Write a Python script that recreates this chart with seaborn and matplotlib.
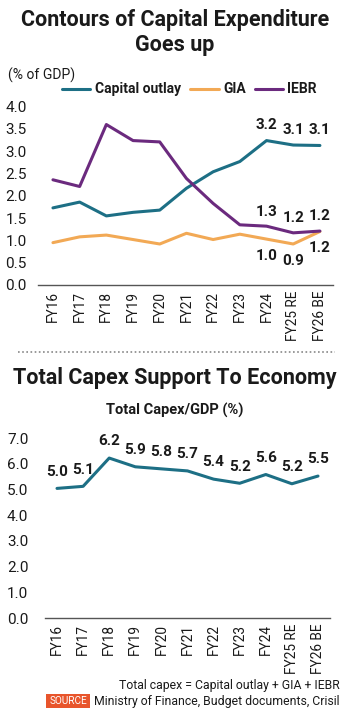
import matplotlib
matplotlib.use("Agg")
import matplotlib.pyplot as plt
import seaborn as sns
import pandas as pd
from matplotlib.lines import Line2D
from matplotlib.patches import Rectangle

years = ["FY16", "FY17", "FY18", "FY19", "FY20", "FY21", "FY22", "FY23", "FY24", "FY25 RE", "FY26 BE"]
capital_outlay = [1.73, 1.86, 1.55, 1.63, 1.68, 2.17, 2.54, 2.77, 3.24, 3.14, 3.13]
gia = [0.95, 1.08, 1.12, 1.02, 0.92, 1.16, 1.02, 1.14, 1.03, 0.92, 1.20]
iebr = [2.36, 2.21, 3.60, 3.24, 3.21, 2.39, 1.83, 1.35, 1.32, 1.17, 1.21]
total = [5.04, 5.12, 6.22, 5.88, 5.80, 5.72, 5.40, 5.24, 5.58, 5.22, 5.52]
series_names = ["Capital outlay", "GIA", "IEBR"]
top_yticks = [0.0, 0.5, 1.0, 1.5, 2.0, 2.5, 3.0, 3.5, 4.0]
bot_yticks = [0.0, 1.0, 2.0, 3.0, 4.0, 5.0, 6.0, 7.0]

TEAL = "#1d6f85"
ORANGE = "#f2a955"
PURPLE = "#6b2a7e"
DARK = "#1a1a1a"

sns.set_theme(style="white")
FONT = ["Roboto", "DejaVu Sans"]
plt.rcParams["font.family"] = FONT

W, H = 350, 714
fig = plt.figure(figsize=(W / 100, H / 100), dpi=100)

def fx(px):
    return px / W

def fy(py):
    return 1 - py / H

# ---------- Top chart ----------
ax1 = fig.add_axes([fx(38), fy(285), fx(333 - 38), fy(106.7) - fy(285)])
df = pd.DataFrame({
    "year": years * 3,
    "value": capital_outlay + gia + iebr,
    "series": [series_names[0]] * 11 + [series_names[1]] * 11 + [series_names[2]] * 11,
})
sns.lineplot(data=df, x="year", y="value", hue="series",
             palette={series_names[0]: TEAL, series_names[1]: ORANGE, series_names[2]: PURPLE},
             linewidth=2.2, ax=ax1, legend=False, sort=False)

def style_axis(ax, yticks, xpad_l, xpad_r, ymax, ypad):
    ax.set_xlim(-xpad_l, len(years) - 1 + xpad_r)
    ax.set_ylim(0, ymax)
    ax.set_yticks(yticks)
    ax.set_yticklabels([f"{t:.1f}" for t in yticks], color=DARK, fontsize=11)
    ax.set_xticks(range(len(years)))
    ax.set_xticklabels(years, rotation=90, color=DARK, fontsize=9.8)
    ax.tick_params(axis="both", length=0, pad=4)
    ax.tick_params(axis="y", pad=ypad)
    for s in ["top", "right", "left"]:
        ax.spines[s].set_visible(False)
    ax.spines["bottom"].set_color("#555555")
    ax.spines["bottom"].set_linewidth(1.0)
    ax.set_xlabel("")
    ax.set_ylabel("")
    ax.patch.set_alpha(0)

style_axis(ax1, top_yticks, 0.56, 0.49, 4.0, 8)

def lbl(ax, text, xy, dy):
    ax.annotate(text, xy, xytext=(0, dy), textcoords="offset points",
                fontsize=11, fontweight="bold", color=DARK, ha="center", va="center")

for i in [8, 9, 10]:
    lbl(ax1, f"{capital_outlay[i]:.1f}", (i, capital_outlay[i]), 11)
    lbl(ax1, f"{iebr[i]:.1f}", (i, iebr[i]), 10.5)
    lbl(ax1, f"{gia[i]:.1f}", (i, gia[i]), -12)

# legend (hand placed to match the reference)
leg_items = [(62, 90, 95, TEAL, series_names[0]),
             (190, 219, 223, ORANGE, series_names[1]),
             (255, 283, 287, PURPLE, series_names[2])]
for x0, x1, xt, c, name in leg_items:
    fig.add_artist(Line2D([fx(x0), fx(x1)], [fy(89), fy(89)], color=c, lw=2.2))
    fig.text(fx(xt), fy(89), name, fontsize=10, fontweight="bold", color=DARK,
             ha="left", va="center")
fig.text(fx(8), fy(75), "(% of GDP)", fontsize=10, color=DARK, ha="left", va="center")

fig.text(0.5, fy(20), "Contours of Capital Expenditure", fontsize=15.5,
         fontweight="bold", ha="center", va="center", color=DARK)
fig.text(0.5, fy(45), "Goes up", fontsize=15.5, fontweight="bold",
         ha="center", va="center", color=DARK)

# separator
fig.add_artist(Line2D([fx(18), fx(335)], [fy(352), fy(352)], color="#888888",
                      lw=1.2, linestyle=(0, (1, 1.5))))

# ---------- Bottom chart ----------
fig.text(0.5, fy(378), "Total Capex Support To Economy", fontsize=15.5,
         fontweight="bold", ha="center", va="center", color=DARK)
fig.text(fx(175), fy(410), "Total Capex/GDP (%)", fontsize=10.5, fontweight="bold",
         ha="center", va="center", color=DARK)

ax2 = fig.add_axes([fx(45), fy(618), fx(330 - 45), fy(438) - fy(618)])
df2 = pd.DataFrame({"year": years, "total": total})
sns.lineplot(data=df2, x="year", y="total", color=TEAL, linewidth=2.2, ax=ax2, sort=False)
style_axis(ax2, bot_yticks, 0.46, 0.46, 7.0, 12)
for i, v in enumerate(total):
    lbl(ax2, f"{v:.1f}", (i, v), 12)

# footnotes
fig.text(fx(340), fy(686), "Total capex = Capital outlay + GIA + IEBR", fontsize=8.8,
         ha="right", va="center", color=DARK)
fig.text(fx(340), fy(701), "Ministry of Finance, Budget documents, Crisil", fontsize=8.8,
         ha="right", va="center", color=DARK)
fig.add_artist(Rectangle((fx(46), fy(708)), fx(44), fy(694) - fy(708),
                         transform=fig.transFigure, facecolor="#e8552c", edgecolor="none"))
fig.text(fx(68), fy(701), "SOURCE", fontsize=7.2, color="white",
         ha="center", va="center")

fig.savefig("out.png", dpi=100)
